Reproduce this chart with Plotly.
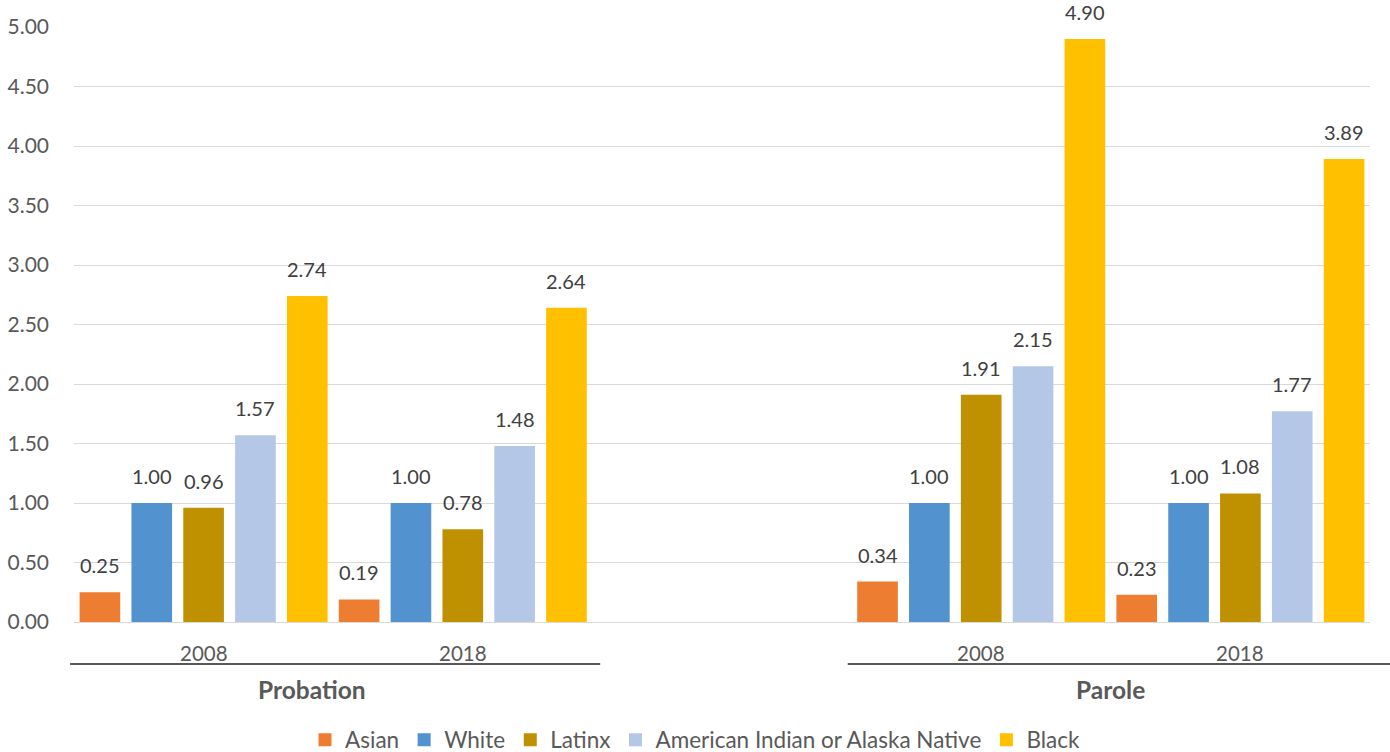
import plotly.graph_objects as go

# ---- data ----
groups = ["Probation", "Probation", None, "Parole", "Parole"]   # None = empty spacer slot
years = ["2008", "2018", None, "2008", "2018"]
series_names = ["Asian", "White", "Latinx", "American Indian or Alaska Native", "Black"]
asian = [0.25, 0.19, 0.34, 0.23]
white = [1.00, 1.00, 1.00, 1.00]
latinx = [0.96, 0.78, 1.91, 1.08]
aian = [1.57, 1.48, 2.15, 1.77]
black = [2.74, 2.64, 4.90, 3.89]
colors = ["#ED7D31", "#5292CF", "#BF9000", "#B4C7E7", "#FFC000"]

values = [asian, white, latinx, aian, black]
slots = len(years)
xpos = [i for i, y in enumerate(years) if y is not None]
nser = len(series_names)

FONT = "Lato"
GRAY = "#595959"
label_shift = {"Probation": -21, "Parole": 0}

fig = go.Figure()
annotations = []
for k, (name, vals, col) in enumerate(zip(series_names, values, colors)):
    fig.add_trace(go.Bar(
        x=xpos, y=vals, name=name, marker=dict(color=col, line=dict(width=0)),
        showlegend=False, cliponaxis=False, hoverinfo="skip",
    ))
    fig.add_trace(go.Scatter(
        x=[None], y=[None], mode="markers", name=name,
        marker=dict(symbol="square", size=13, color=col),
    ))
    # value labels above each bar (grouped offset: bargap=0 -> slot width 1/nser)
    off = (k - (nser - 1) / 2) / nser
    for xp, v in zip(xpos, vals):
        annotations.append(dict(
            x=xp + off, y=v, xref="x", yref="y", xanchor="center", yanchor="bottom",
            yshift=13, text=f"{v:.2f}", showarrow=False,
            font=dict(family=FONT, size=20, color="#404040"),
        ))

for i in xpos:
    annotations.append(dict(
        x=(i + 0.5) / slots, xref="paper", y=0, yref="paper",
        xanchor="center", yanchor="top",
        yshift=-17, text=years[i], showarrow=False,
        font=dict(family=FONT, size=20.5, color=GRAY),
    ))

shapes = []
done = set()
for g in groups:
    if g is None or g in done:
        continue
    done.add(g)
    idx = [i for i, gg in enumerate(groups) if gg == g]
    x0 = idx[0] / slots
    x1 = (idx[-1] + 1) / slots
    shapes.append(dict(type="line", xref="paper", yref="paper",
                       x0=x0 - 0.003, x1=x1 + (0.016 if idx[-1] == slots - 1 else 0.006),
                       y0=-0.0706, y1=-0.0706,
                       line=dict(color=GRAY, width=2)))
    annotations.append(dict(
        x=(x0 + x1) / 2, xref="paper", y=-0.113, yref="paper",
        xanchor="center", yanchor="middle",
        xshift=label_shift.get(g, 0), text=f"<b>{g}</b>", showarrow=False,
        font=dict(family=FONT, size=24.5, color=GRAY),
    ))

fig.update_layout(
    width=1390, height=752,
    margin=dict(l=74, r=20, t=27, b=130, autoexpand=False),
    plot_bgcolor="white", paper_bgcolor="white",
    barmode="group", bargap=0, bargroupgap=0.216,
    font=dict(family=FONT, size=20, color=GRAY),
    hovermode=False,
    xaxis=dict(range=[-0.5, slots - 0.5], showticklabels=False, showgrid=False,
               zeroline=False, showline=False, fixedrange=True, automargin=False),
    yaxis=dict(range=[0, 5], dtick=0.5, tickformat=".2f", showgrid=True,
               gridcolor="#D9D9D9", gridwidth=1.2, zeroline=True, zerolinecolor="#D9D9D9",
               zerolinewidth=1.2, showline=False, ticks="", ticklabelstandoff=24,
               automargin=False, fixedrange=True,
               tickfont=dict(family=FONT, size=21, color=GRAY)),
    legend=dict(orientation="h", x=0.5, xanchor="center", xref="container",
                y=1 - 740 / 752, yanchor="middle", yref="container",
                font=dict(family=FONT, size=22.5, color=GRAY), traceorder="normal",
                bgcolor="rgba(0,0,0,0)"),
    annotations=annotations, shapes=shapes,
)

fig.write_html("out.html", config={"displayModeBar": False},
               post_script="document.body.style.margin='0px';document.body.style.overflow='hidden';")
